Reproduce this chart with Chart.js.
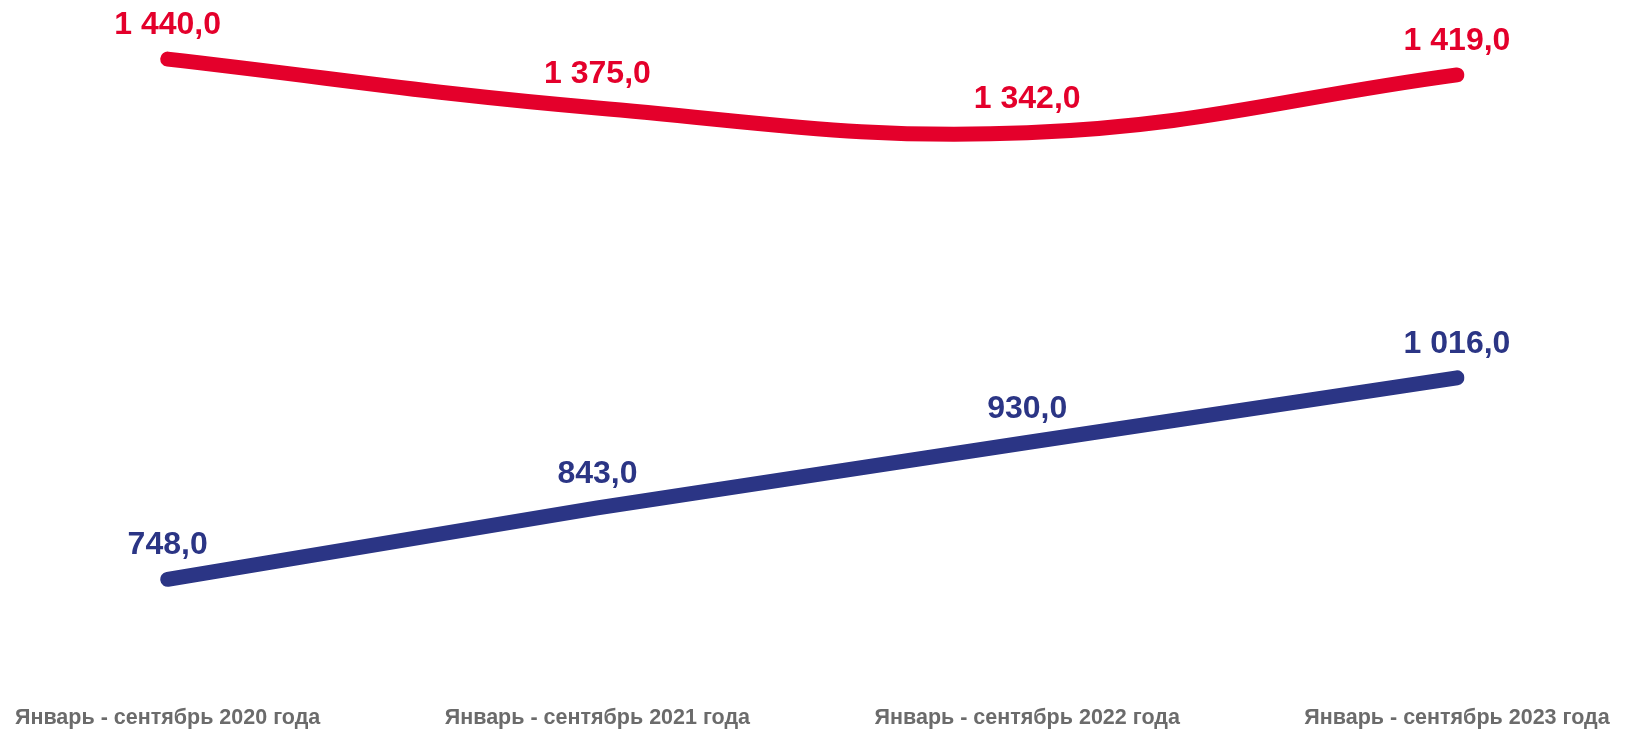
<!DOCTYPE html>
<html>
<head>
<meta charset="utf-8">
<script src="https://cdn.jsdelivr.net/npm/chart.js@4/dist/chart.umd.min.js"></script>
<style>
	html, body { margin: 0; padding: 0; background: #fff; }
	#wrap { width: 1632px; height: 729px; position: relative; }
</style>
</head>
<body>
<div id="wrap"><canvas id="grafico"></canvas></div>
<script>
var periodos = [
	"Январь - сентябрь 2020 года",
	"Январь - сентябрь 2021 года",
	"Январь - сентябрь 2022 года",
	"Январь - сентябрь 2023 года"
];
var valoresVermelho = [1440, 1375, 1342, 1419];
var valoresAzul = [748, 843, 930, 1016];

var corVermelho = "#E4002B";
var corAzul = "#2B3585";

// formata 1440 -> "1 440,0"
function formatar(v) {
	var partes = v.toFixed(1).split(".");
	var inteiro = partes[0].replace(/\B(?=(\d{3})+(?!\d))/g, " ");
	return inteiro + "," + partes[1];
}

// rotulos de dados acima de cada ponto
var rotulos = {
	id: "rotulos",
	afterDatasetsDraw: function (chart) {
		var ctx = chart.ctx;
		ctx.save();
		ctx.font = "bold 32px 'Liberation Sans', Arial, sans-serif";
		ctx.textAlign = "center";
		ctx.textBaseline = "alphabetic";
		chart.data.datasets.forEach(function (ds, i) {
			var meta = chart.getDatasetMeta(i);
			ctx.fillStyle = ds.borderColor;
			meta.data.forEach(function (pt, j) {
				ctx.fillText(formatar(ds.data[j]), pt.x, pt.y - 25);
			});
		});
		ctx.restore();
	}
};

var config = {
	type: "line",
	data: {
		labels: periodos,
		datasets: [
			{
				label: "vermelho",
				data: valoresVermelho,
				borderColor: corVermelho,
				borderWidth: 15,
				borderCapStyle: "round",
				borderJoinStyle: "round",
				tension: 0.4,
				pointRadius: 0,
				pointHoverRadius: 0,
				fill: false
			},
			{
				label: "azul",
				data: valoresAzul,
				borderColor: corAzul,
				borderWidth: 15,
				borderCapStyle: "round",
				borderJoinStyle: "round",
				tension: 0,
				pointRadius: 0,
				pointHoverRadius: 0,
				fill: false
			}
		]
	},
	options: {
		responsive: true,
		maintainAspectRatio: false,
		animation: false,
		layout: {
			padding: { left: 166, right: 175, top: 14, bottom: 0 }
		},
		scales: {
			x: {
				offset: false,
				grid: { display: false, drawTicks: false },
				border: { display: false },
				afterFit: function (scale) {
					scale.height = 38.4;
				},
				ticks: {
					color: "#6b6b6b",
					padding: 15,
					maxRotation: 0,
					autoSkip: false,
					font: { family: "'Liberation Sans', Arial, sans-serif", size: 21.5, weight: "bold" }
				}
			},
			y: {
				display: false,
				min: 600,
				max: 1500
			}
		},
		plugins: {
			legend: { display: false },
			tooltip: { enabled: false }
		}
	},
	plugins: [rotulos]
};

new Chart(document.getElementById("grafico"), config);
</script>
</body>
</html>
